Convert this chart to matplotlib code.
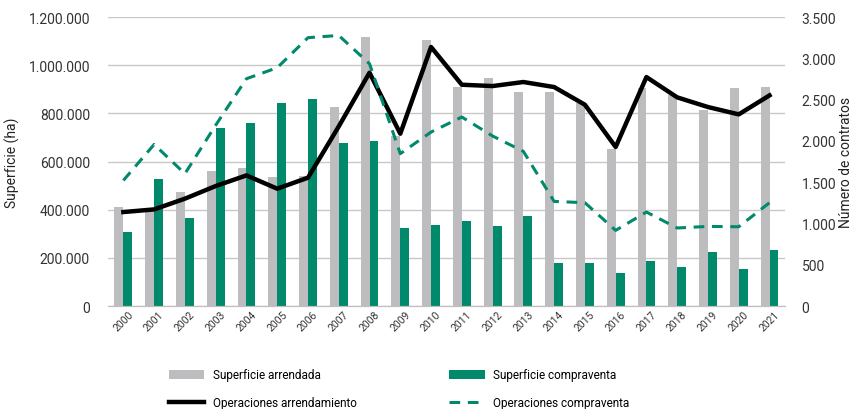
import numpy as np
import matplotlib
matplotlib.use("Agg")
import matplotlib.pyplot as plt
from matplotlib.ticker import FuncFormatter

plt.rcParams["font.family"] = ["Roboto", "DejaVu Sans"]

years = [str(y) for y in range(2000, 2022)]

# superficie (ha)
sup_arrendada = [413000, 395000, 475000, 560000, 574000, 535000, 538000, 826000,
                 1117000, 705000, 1103000, 909000, 947000, 887000, 887000, 845000,
                 653000, 905000, 875000, 815000, 905000, 909000]
sup_compraventa = [308000, 529000, 365000, 740000, 758000, 845000, 861000, 675000,
                   686000, 324000, 338000, 355000, 333000, 372000, 177000, 177000,
                   135000, 188000, 160000, 225000, 154000, 234000]

# numero de contratos
op_arrendamiento = [1138, 1170, 1300, 1453, 1582, 1421, 1554, 2175, 2826, 2087,
                    3137, 2680, 2664, 2713, 2652, 2438, 1926, 2773, 2527, 2410,
                    2321, 2551]
op_compraventa = [1521, 1957, 1602, 2190, 2753, 2886, 3250, 3277, 2934, 1845,
                  2107, 2289, 2059, 1873, 1267, 1251, 916, 1138, 945, 964,
                  960, 1251]

GRIS = "#BDBDC0"
VERDE = "#00896B"

def miles(v, pos):
    return f"{int(v):,}".replace(",", ".")

fig = plt.figure(figsize=(8.55, 4.1), dpi=100)
ax = fig.add_axes([0.1263, 0.2512, 0.7917, 0.7048])
ax2 = ax.twinx()

x = np.arange(len(years))
w = 0.29
b1 = ax.bar(x - w / 2, sup_arrendada, w, color=GRIS, zorder=2)
b2 = ax.bar(x + w / 2, sup_compraventa, w, color=VERDE, zorder=2)

l1, = ax2.plot(x, op_arrendamiento, color="black", lw=3.2, zorder=3)
l2, = ax2.plot(x, op_compraventa, color=VERDE, lw=2.2, ls=(0, (3.5, 2.5)), zorder=3)

ax.set_xlim(-0.5, len(years) - 0.5)
ax.set_ylim(0, 1200000)
ax2.set_ylim(0, 3500)
ax.set_yticks(np.arange(0, 1200001, 200000))
ax2.set_yticks(np.arange(0, 3501, 500))
ax.yaxis.set_major_formatter(FuncFormatter(miles))
ax2.yaxis.set_major_formatter(FuncFormatter(miles))

ax.grid(axis="y", color="#C8C8C8", lw=1, zorder=0)
ax.set_axisbelow(True)
for a in (ax, ax2):
    for s in ["top", "left", "right"]:
        a.spines[s].set_visible(False)
    a.spines["bottom"].set_color("#BFBFBF")
    a.tick_params(axis="y", length=0, labelsize=10, colors="#333333")
ax.tick_params(axis="y", pad=13)
ax2.tick_params(axis="y", pad=12)

ax.set_xticks(x)
ax.set_xticklabels(years, rotation=45, fontsize=7.5, color="#333333")
ax.tick_params(axis="x", length=0, pad=2)

ax.set_ylabel("Superficie (ha)", fontsize=10, color="#222222", labelpad=6)
ax2.set_ylabel("Número de contratos", fontsize=10, color="#222222", labelpad=2)

leg = fig.legend([b1, l1, b2, l2],
                 ["Superficie arrendada", "Operaciones arrendamiento",
                  "Superficie compraventa", "Operaciones compraventa"],
                 ncol=2, loc="center", bbox_to_anchor=(0.467, 0.05),
                 frameon=False, handlelength=3.0, handleheight=0.8,
                 handletextpad=0.75, columnspacing=7.8, labelspacing=1.25,
                 prop={"size": 8.5})

fig.savefig("out.png", dpi=100)
